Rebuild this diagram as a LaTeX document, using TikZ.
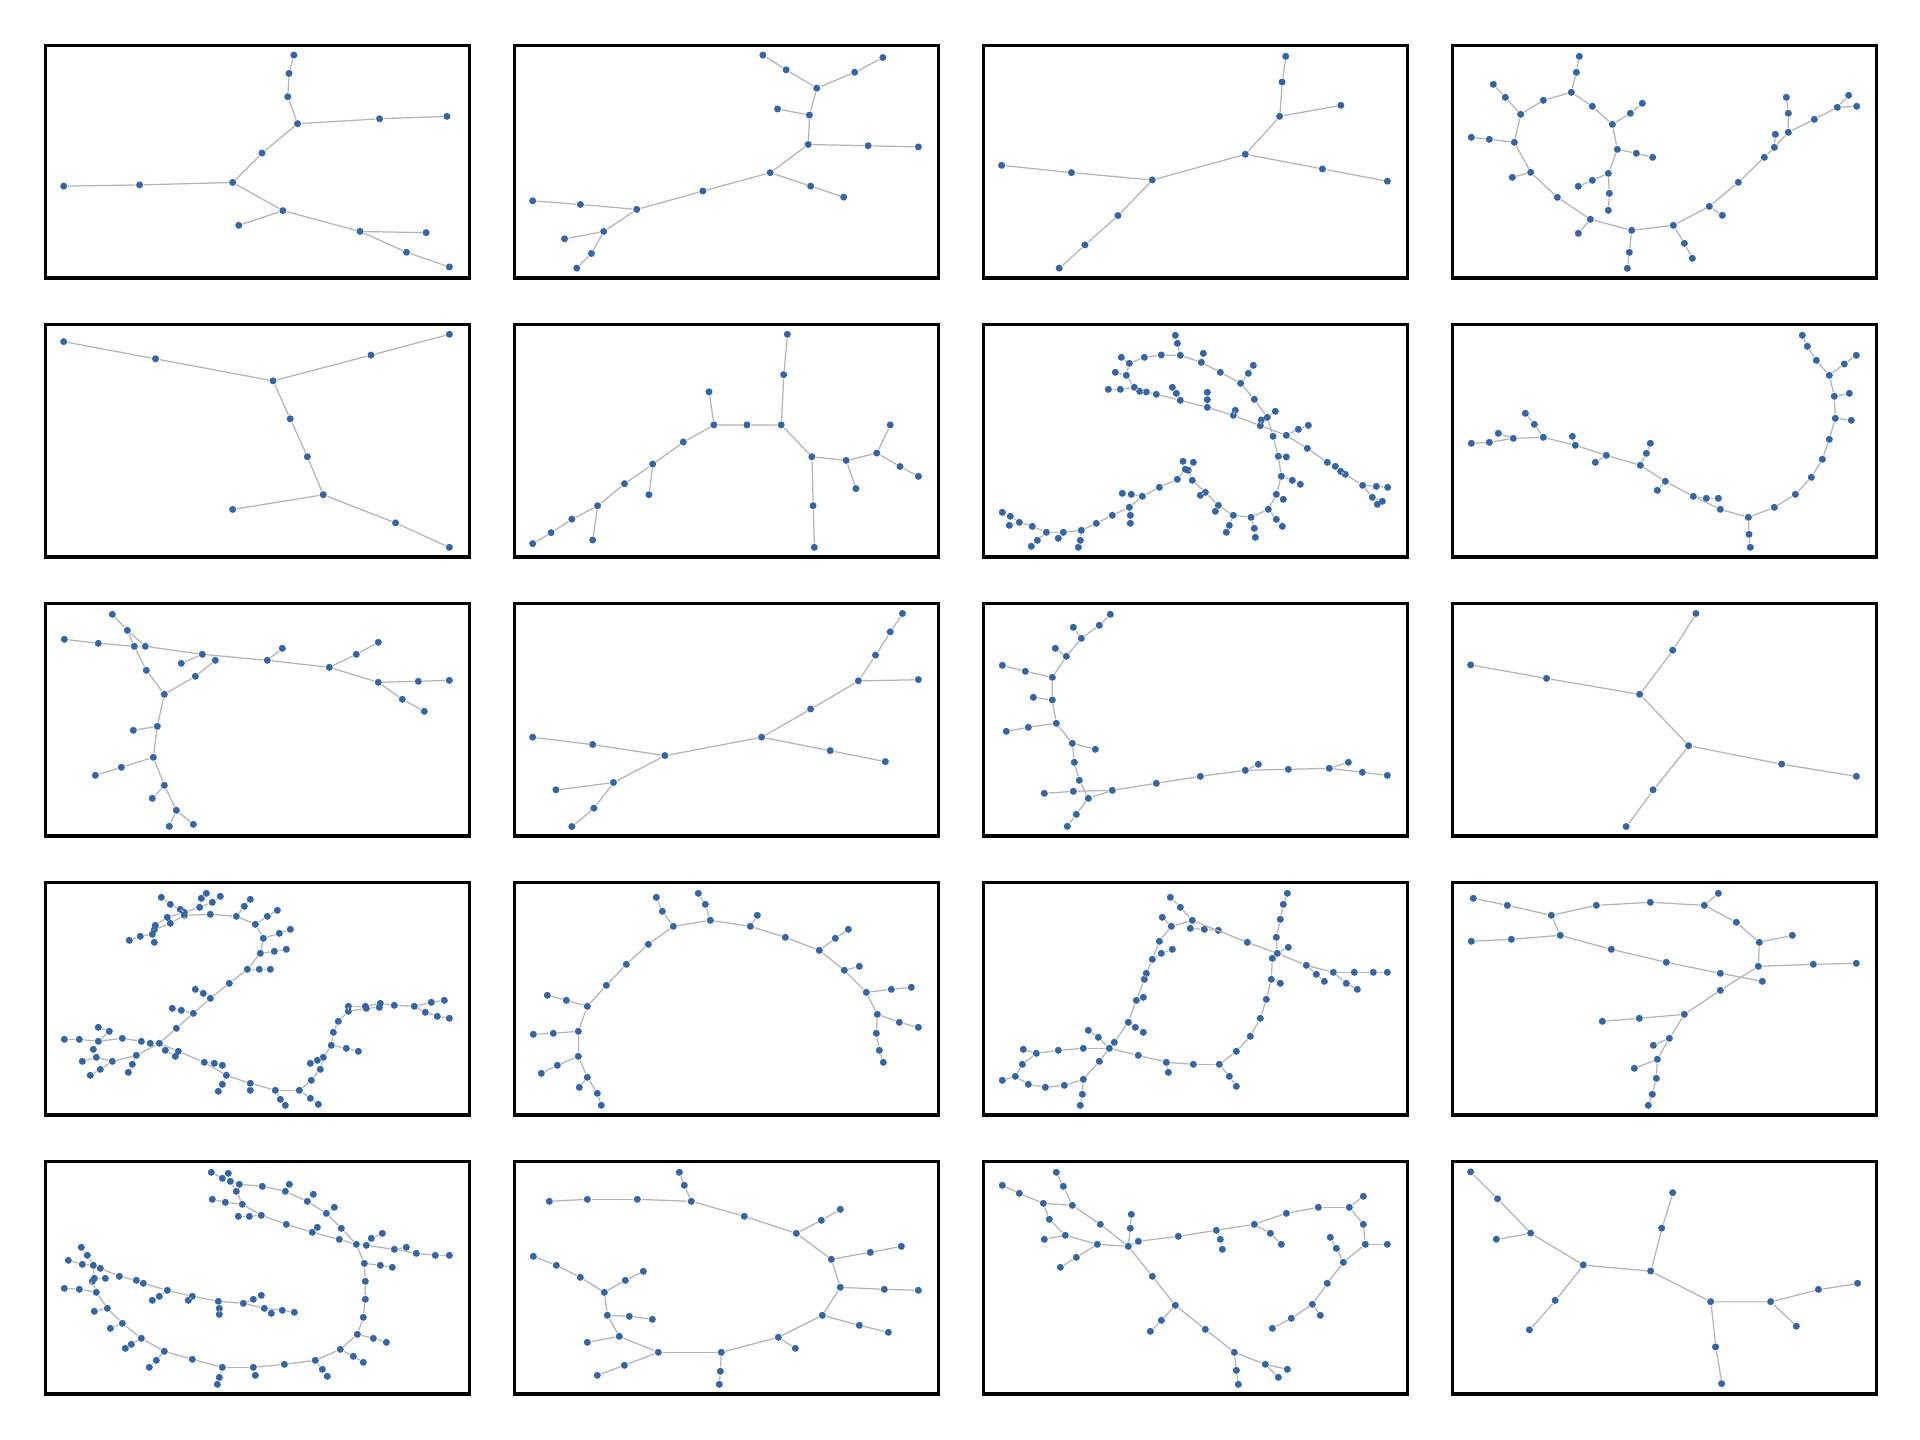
\documentclass[tikz,border=0pt]{standalone}
\usepackage{tikz}
\definecolor{dotblue}{HTML}{3465A4}
\definecolor{edgegray}{HTML}{B4B4B4}
\tikzset{
  pt/.style={circle,fill=dotblue,draw=none,inner sep=0pt,minimum size=0.07cm},
  edge/.style={draw=edgegray,line width=0.35pt},
  frame/.style={draw=black,line width=1pt}
}
\newcommand\PanelPts[2]{\foreach \n/\x/\y in {#2} {\node[pt] (#1-\n) at (\x,\y) {};}}
\newcommand\PanelEdges[2]{\foreach \a/\b in {#2} {\draw[edge] (#1-\a) -- (#1-\b);}}
\begin{document}
\begin{tikzpicture}[x=0.01cm,y=-0.01cm]
\useasboundingbox[fill=white] (0,0) rectangle (1920,1440);
% frames
\foreach \c in {0,1,2,3} {\foreach \r in {0,1,2,3,4} {
  \draw[frame] (45.7+469*\c,45.7+279*\r) rectangle (469.3+469*\c,278.2+279*\r);
}}
% ---------- simple panels, displayed coordinates ----------
\begin{scope}[scale=1.2245]
\PanelPts{A}{1/240/45, 2/236/60, 3/235/79, 4/243/101, 5/310/97, 6/365/95, 7/214/125, 8/190/149, 9/114/151, 10/52/152, 11/231/172, 12/195/184, 13/294/189, 14/348/190, 15/332/206, 16/367/218}
\PanelEdges{A}{1/2,2/3,3/4,4/5,5/6,4/7,7/8,8/9,9/10,8/11,11/12,11/13,13/14,13/15,15/16}
\PanelPts{B}{1/623/45, 2/642/57, 3/667/72, 4/698/59, 5/721/47, 6/635/89, 7/661/94, 8/660/118, 9/709/119, 10/750/120, 11/629/141, 12/662/152, 13/689/161, 14/574/156, 15/520/171, 16/474/167, 17/435/164, 18/493/189, 19/461/195, 20/483/207, 21/471/219}
\PanelEdges{B}{1/2,2/3,3/4,4/5,3/7,6/7,7/8,8/9,9/10,8/11,11/12,12/13,11/14,14/15,15/16,16/17,15/18,18/19,18/20,20/21}
\PanelPts{C}{1/1050/46, 2/1047/67, 3/1045/95, 4/1095/86, 5/1017/126, 6/1080/138, 7/1133/148, 8/941/147, 9/875/141, 10/818/135, 11/913/176, 12/886/200, 13/865/219}
\PanelEdges{C}{1/2,2/3,3/4,3/5,5/6,6/7,5/8,8/9,9/10,8/11,11/12,12/13}
\PanelPts{E}{1/52/279, 2/127/293, 3/223/311, 4/303/290, 5/367/273, 6/237/342, 7/251/373, 8/264/404, 9/190/416, 10/323/427, 11/367/447}
\PanelEdges{E}{1/2,2/3,3/4,4/5,3/6,6/7,7/8,8/9,8/10,10/11}
\PanelPts{F}{1/643/273, 2/640/306, 3/638/347, 4/610/347, 5/583/347, 6/579/320, 7/558/361, 8/533/379, 9/530/404, 10/510/395, 11/488/413, 12/484/441, 13/467/424, 14/450/435, 15/435/444, 16/663/373, 17/664/413, 18/665/447, 19/691/376, 20/699/399, 21/716/370, 22/727/347, 23/735/381, 24/750/389}
\PanelEdges{F}{1/2,2/3,3/4,4/5,5/6,5/7,7/8,8/9,8/10,10/11,11/12,11/13,13/14,14/15,3/16,16/17,17/18,16/19,19/20,19/21,21/22,21/23,23/24}
\PanelPts{J}{1/737/501, 2/727/516, 3/715/535, 4/701/556, 5/750/555, 6/662/579, 7/622/602, 8/678/613, 9/723/622, 10/543/617, 11/484/608, 12/435/602, 13/501/639, 14/454/645, 15/485/660, 16/467/675}
\PanelEdges{J}{1/2,2/3,3/4,4/5,4/6,6/7,7/8,8/9,7/10,10/11,11/12,10/13,13/14,13/15,15/16}
\PanelPts{L}{1/1385/501, 2/1366/531, 3/1339/567, 4/1263/554, 5/1201/543, 6/1379/609, 7/1455/624, 8/1516/634, 9/1350/645, 10/1328/675}
\PanelEdges{L}{1/2,2/3,3/4,4/5,3/6,6/7,7/8,6/9,9/10}
\PanelPts{T}{1/1201/957, 2/1223/979, 3/1250/1007, 4/1222/1012, 5/1293/1033, 6/1270/1062, 7/1249/1086, 8/1348/1038, 9/1357/1003, 10/1366/974, 11/1397/1063, 12/1401/1100, 13/1406/1130, 14/1446/1063, 15/1467/1083, 16/1485/1053, 17/1517/1048}
\PanelEdges{T}{1/2,2/3,3/4,3/5,5/6,6/7,5/8,8/9,9/10,8/11,11/12,12/13,11/14,14/15,14/16,16/17}
\end{scope}
% ---------- D: row 1 col 4 ----------
\begin{scope}[shift={(1446,40)},scale=0.33333]
\PanelPts{D}{1/400/49, 2/391/97, 3/376/157, 4/292/181, 5/224/223, 6/178/172, 7/142/133, 8/205/307, 9/130/298, 10/76/292, 11/254/397, 12/199/412, 13/334/472, 14/433/538, 15/397/580, 16/557/571, 17/550/637, 18/544/685, 19/682/556, 20/715/610, 21/739/655, 22/790/499, 23/829/526, 24/877/427, 25/955/352, 26/985/322, 27/988/283, 28/1027/277, 29/1027/220, 30/1021/172, 31/1105/238, 32/1174/202, 33/1208/166, 34/1232/199, 35/439/199, 36/499/253, 37/553/220, 38/589/190, 39/514/328, 40/571/340, 41/620/352, 42/487/400, 43/439/421, 44/397/439, 45/490/460, 46/487/511}
\PanelEdges{D}{1/2,2/3,3/4,4/5,5/6,6/7,5/8,8/9,9/10,8/11,11/12,11/13,13/14,14/15,14/16,16/17,17/18,16/19,19/20,20/21,19/22,22/23,22/24,24/25,25/26,26/27,26/28,28/29,29/30,28/31,31/32,32/33,32/34,3/35,35/36,36/37,37/38,36/39,39/40,40/41,39/42,42/43,43/44,42/45,45/46}
\end{scope}
% ---------- G: row 2 col 3 ----------
\begin{scope}[shift={(978,319)},scale=0.33333]
\PanelPts{G}{1/592/49, 2/598/73, 3/607/109, 4/550/108, 5/499/115, 6/454/133, 7/430/115, 8/445/169, 9/412/160, 10/469/205, 11/427/211, 12/391/211, 13/485/217, 14/505/219, 15/535/226, 16/607/244, 17/595/223, 18/583/205, 19/688/265, 20/688/242, 21/688/220, 22/766/289, 23/772/274, 24/847/320, 25/850/303, 26/925/349, 27/961/331, 28/991/319, 29/988/388, 30/1048/430, 31/1072/442, 32/1088/457, 33/1102/466, 34/1154/499, 35/1195/502, 36/1229/505, 37/1183/535, 38/1213/547, 39/1198/556, 40/676/103, 41/670/130, 42/727/160, 43/788/193, 44/811/163, 45/826/139, 46/829/241, 47/868/295, 48/892/277, 49/885/352, 50/901/412, 51/925/414, 52/910/472, 53/943/484, 54/967/496, 55/895/526, 56/916/541, 57/871/571, 58/895/601, 59/913/622, 60/819/595, 61/829/628, 62/832/655, 63/766/589, 64/754/619, 65/745/640, 66/721/559, 67/712/577, 68/682/520, 69/667/529, 70/643/484, 71/631/454, 72/646/430, 73/622/451, 74/615/427, 75/598/481, 76/544/505, 77/493/532, 78/460/526, 79/433/523, 80/454/565, 81/457/589, 82/457/613, 83/403/589, 84/355/613, 85/310/634, 86/307/664, 87/301/685, 88/256/640, 89/241/658, 90/205/640, 91/178/664, 92/160/682, 93/163/622, 94/124/610, 95/97/592, 96/73/580, 97/94/619}
\PanelEdges{G}{1/2,2/3,3/4,4/5,5/6,6/7,6/8,8/9,8/10,10/11,11/12,10/13,13/14,14/15,15/16,16/17,17/18,16/19,19/20,20/21,19/22,22/23,22/24,24/25,24/26,26/27,27/28,26/29,29/30,30/31,31/32,32/33,33/34,34/35,35/36,34/37,37/38,37/39,3/41,41/40,41/42,42/43,43/44,44/45,43/46,46/47,47/48,47/49,49/50,50/51,50/52,52/53,53/54,52/55,55/56,55/57,57/58,58/59,57/60,60/61,61/62,60/63,63/64,64/65,63/66,66/67,66/68,68/69,68/70,70/71,71/72,71/73,73/74,73/75,75/76,76/77,77/78,78/79,77/80,80/81,81/82,80/83,83/84,84/85,85/86,86/87,85/88,88/89,88/90,90/91,91/92,90/93,93/94,94/95,95/96,94/97}
\end{scope}
% ---------- H: row 2 col 4 ----------
\begin{scope}[shift={(1446,319)},scale=0.33333]
\PanelPts{H}{1/76/373, 2/130/370, 3/202/358, 4/157/343, 5/292/355, 6/265/316, 7/238/283, 8/388/379, 9/379/352, 10/481/409, 11/448/430, 12/583/439, 13/601/403, 14/613/373, 15/658/487, 16/634/514, 17/742/532, 18/781/538, 19/817/538, 20/823/571, 21/907/595, 22/909/646, 23/913/685, 24/985/565, 25/1048/526, 26/1096/475, 27/1129/421, 28/1150/361, 29/1168/298, 30/1216/304, 31/1165/232, 32/1210/223, 33/1150/169, 34/1195/135, 35/1231/109, 36/1111/124, 37/1084/82, 38/1069/49}
\PanelEdges{H}{1/2,2/3,3/4,3/5,5/6,6/7,5/8,8/9,8/10,10/11,10/12,12/13,13/14,12/15,15/16,15/17,17/18,18/19,17/20,20/21,21/22,22/23,21/24,24/25,25/26,26/27,27/28,28/29,29/30,29/31,31/32,31/33,33/34,34/35,33/36,36/37,37/38}
\end{scope}
% ---------- I: row 3 col 1 ----------
\begin{scope}[shift={(40,599)},scale=0.33333]
\PanelPts{I}{1/73/121, 2/175/133, 3/283/142, 4/316/142, 5/262/94, 6/217/46, 7/487/166, 8/424/193, 9/682/184, 10/727/148, 11/868/205, 12/949/166, 13/1015/130, 14/1015/250, 15/1135/247, 16/1228/244, 17/1087/301, 18/1153/337, 19/319/214, 20/373/286, 21/466/232, 22/526/184, 23/352/382, 24/280/394, 25/340/475, 26/244/505, 27/166/529, 28/373/559, 29/337/598, 30/409/634, 31/388/682, 32/460/676}
\PanelEdges{I}{1/2,2/3,3/4,4/7,7/8,7/9,9/10,9/11,11/12,12/13,11/14,14/15,15/16,14/17,17/18,4/5,5/6,5/3,3/19,19/20,20/21,21/22,20/23,23/24,23/25,25/26,26/27,25/28,28/29,28/30,30/31,30/32}
\end{scope}
% ---------- K: row 3 col 3 ----------
\begin{scope}[shift={(978,599)},scale=0.33333]
\PanelPts{K}{1/397/46, 2/364/79, 3/310/118, 4/286/85, 5/265/172, 6/232/148, 7/223/235, 8/142/217, 9/73/199, 10/223/303, 11/166/295, 12/235/373, 13/151/385, 14/85/397, 15/283/433, 16/352/451, 17/289/490, 18/304/544, 19/331/598, 20/295/646, 21/268/682, 22/403/574, 23/286/577, 24/199/583, 25/535/553, 26/667/532, 27/802/514, 28/841/496, 29/931/511, 30/1054/508, 31/1111/490, 32/1153/520, 33/1228/529}
\PanelEdges{K}{1/2,2/3,3/4,3/5,5/6,5/7,7/8,8/9,7/10,10/11,10/12,12/13,13/14,12/15,15/16,15/17,17/18,18/19,19/20,20/21,19/22,22/23,23/24,22/25,25/26,26/27,27/28,27/29,29/30,30/31,30/32,32/33}
\end{scope}
% ---------- M: row 4 col 1 ----------
\begin{scope}[shift={(40,878)},scale=0.33333]
\PanelPts{M}{1/364/58, 2/391/79, 3/421/94, 4/433/103, 5/433/112, 6/499/46, 7/484/61, 8/479/88, 9/541/55, 10/517/73, 11/382/118, 12/391/136, 13/346/142, 14/343/155, 15/337/169, 16/343/193, 17/301/175, 18/268/187, 19/511/109, 20/589/115, 21/613/85, 22/631/64, 23/646/139, 24/682/115, 25/712/97, 26/670/181, 27/718/166, 28/751/154, 29/661/226, 30/703/220, 31/739/214, 32/622/274, 33/658/274, 34/691/274, 35/568/316, 36/511/361, 37/490/346, 38/466/334, 39/460/406, 40/424/397, 41/397/391, 42/409/451, 43/358/496, 44/331/496, 45/304/490, 46/247/481, 47/175/490, 48/118/484, 49/73/484, 50/208/460, 51/175/448, 52/160/514, 53/169/538, 54/127/550, 55/217/550, 56/181/574, 57/151/592, 58/289/532, 59/277/559, 60/265/583, 61/376/517, 62/406/535, 63/415/520, 64/493/553, 65/523/556, 66/547/562, 67/559/592, 68/547/619, 69/535/640, 70/631/616, 71/631/637, 72/706/637, 73/721/664, 74/736/682, 75/778/637, 76/811/661, 77/835/679, 78/814/607, 79/841/574, 80/811/556, 81/832/547, 82/850/538, 83/874/502, 84/919/511, 85/955/520, 86/880/463, 87/895/430, 88/925/400, 89/925/385, 90/979/391, 91/976/385, 92/1018/388, 93/1021/376, 94/1063/382, 95/1123/385, 96/1174/373, 97/1213/367, 98/1156/403, 99/1192/415, 100/1228/421}
\PanelEdges{M}{43/42,42/39,39/36,36/35,35/32,32/29,29/26,26/23,23/20,20/19,19/5,5/4,4/3,3/2,2/1,4/8,8/7,7/6,8/10,10/9,4/11,11/13,13/15,15/16,15/17,17/18,5/12,12/14,20/21,21/22,23/24,24/25,26/27,27/28,29/30,30/31,32/33,33/34,36/37,37/38,39/40,40/41,43/44,44/45,45/46,46/47,47/48,48/49,47/50,50/51,43/58,58/55,55/53,53/54,53/52,55/56,56/57,58/59,59/60,43/61,61/62,43/63,63/64,64/65,65/66,64/67,67/68,68/69,67/70,70/71,70/72,72/73,73/74,72/75,75/76,76/77,75/78,78/79,79/82,82/81,81/80,82/83,83/84,84/85,83/86,86/87,87/88,88/89,89/91,91/93,93/94,94/95,88/90,90/92,95/96,96/97,95/98,98/99,99/100}
\end{scope}
% ---------- N: row 4 col 2 ----------
\begin{scope}[shift={(509,878)},scale=0.33333]
\PanelPts{N}{1/442/58, 2/460/100, 3/493/145, 4/568/46, 5/589/79, 6/604/127, 7/724/145, 8/745/112, 9/829/178, 10/931/217, 11/979/181, 12/1018/154, 13/1006/277, 14/1051/265, 15/1072/343, 16/1147/334, 17/1207/328, 18/1105/409, 19/1171/433, 20/1228/448, 21/1102/466, 22/1111/517, 23/1123/553, 24/418/199, 25/352/259, 26/292/322, 27/235/385, 28/172/367, 29/115/352, 30/208/460, 31/133/466, 32/73/469, 33/208/535, 34/145/562, 35/97/586, 36/235/598, 37/211/628, 38/265/646, 39/277/682}
\PanelEdges{N}{1/2,2/3,4/5,5/6,3/6,6/7,7/8,7/9,9/10,10/11,11/12,10/13,13/14,13/15,15/16,16/17,15/18,18/19,19/20,18/21,21/22,22/23,3/24,24/25,25/26,26/27,27/28,28/29,27/30,30/31,31/32,30/33,33/34,34/35,33/36,36/37,36/38,38/39}
\end{scope}
% ---------- O: row 4 col 3 ----------
\begin{scope}[shift={(978,878)},scale=0.33333]
\PanelPts{O}{1/577/58, 2/607/88, 3/643/127, 4/553/118, 5/580/145, 6/637/151, 7/679/154, 8/721/157, 9/808/193, 10/898/226, 11/931/208, 12/883/241, 13/895/178, 14/907/124, 15/916/79, 16/928/46, 17/985/262, 18/1015/289, 19/1039/310, 20/1066/283, 21/1129/283, 22/1186/283, 23/1228/283, 24/1105/316, 25/1138/334, 26/880/304, 27/907/316, 28/865/364, 29/847/421, 30/817/475, 31/775/520, 32/724/559, 33/754/595, 34/775/625, 35/646/559, 36/565/553, 37/571/583, 38/481/532, 39/394/511, 40/361/478, 41/331/457, 42/409/493, 43/451/433, 44/472/448, 45/496/463, 46/475/367, 47/496/358, 48/499/304, 49/505/286, 50/523/244, 51/550/226, 52/583/214, 53/544/190, 54/316/511, 55/241/517, 56/175/526, 57/136/514, 58/133/559, 59/112/595, 60/73/607, 61/151/619, 62/202/628, 63/259/622, 64/316/604, 65/313/649, 66/307/682, 67/364/550}
\PanelEdges{O}{1/2,2/3,3/5,5/4,3/6,6/7,7/8,3/9,9/10,10/13,13/14,14/15,15/16,10/11,10/12,12/26,10/17,17/18,18/19,17/20,20/21,21/22,22/23,20/24,24/25,26/27,26/28,28/29,29/30,30/31,31/32,32/33,33/34,32/35,35/36,36/37,36/38,38/39,39/40,40/41,39/42,42/43,43/44,44/45,43/46,46/47,46/48,48/49,49/50,50/51,51/52,50/53,53/5,39/54,54/55,55/56,56/57,56/58,58/59,59/60,59/61,61/62,62/63,63/64,64/65,65/66,64/67,67/39}
\end{scope}
% ---------- P: row 4 col 4 ----------
\begin{scope}[shift={(1446,878)},scale=0.33333]
\PanelPts{P}{1/82/61, 2/184/82, 3/316/112, 4/451/82, 5/613/73, 6/775/82, 7/817/46, 8/871/133, 9/940/193, 10/1039/172, 11/937/265, 12/1102/259, 13/1231/256, 14/343/172, 15/196/184, 16/76/190, 17/496/214, 18/661/253, 19/823/286, 20/949/310, 21/823/337, 22/715/409, 23/580/421, 24/469/430, 25/670/481, 26/622/502, 27/634/544, 28/565/571, 29/631/601, 30/619/649, 31/607/682}
\PanelEdges{P}{1/2,2/3,3/4,4/5,5/6,6/7,6/8,8/9,9/10,9/11,11/12,12/13,3/14,14/15,15/16,14/17,17/18,18/19,19/20,11/21,21/22,22/23,23/24,22/25,25/26,25/27,27/28,27/29,29/30,30/31}
\end{scope}
% ---------- Q: row 5 col 1 ----------
\begin{scope}[shift={(40,1157)},scale=0.33333]
\PanelPts{Q}{1/514/46, 2/547/64, 3/571/73, 4/565/49, 5/598/82, 6/667/88, 7/736/103, 8/748/82, 9/802/133, 10/820/112, 11/859/169, 12/883/151, 13/904/214, 14/949/262, 15/589/103, 16/607/142, 17/556/136, 18/517/127, 19/664/175, 20/628/178, 21/595/178, 22/739/202, 23/817/226, 24/832/211, 25/898/247, 26/979/265, 27/994/244, 28/1027/229, 29/1063/277, 30/1099/271, 31/1129/289, 32/1186/295, 33/1228/295, 34/973/319, 35/1021/325, 36/1057/331, 37/976/373, 38/976/427, 39/970/481, 40/952/532, 41/1000/544, 42/1039/556, 43/901/577, 44/940/598, 45/970/616, 46/826/610, 47/847/637, 48/862/658, 49/733/622, 50/640/631, 51/646/655, 52/547/631, 53/538/661, 54/532/682, 55/457/607, 56/373/583, 57/349/610, 58/328/631, 59/304/544, 60/274/562, 61/256/574, 62/247/499, 63/211/514, 64/202/454, 65/163/463, 66/169/406, 67/118/397, 68/73/394, 69/157/373, 70/163/364, 71/196/364, 72/238/358, 73/181/334, 74/160/325, 75/127/322, 76/85/310, 77/142/295, 78/124/271, 79/289/370, 80/310/379, 81/382/400, 82/358/418, 83/337/430, 84/457/418, 85/445/430, 86/535/433, 87/538/454, 88/538/472, 89/610/439, 90/640/427, 91/664/415, 92/673/454, 93/694/469, 94/727/460, 95/763/466}
\PanelEdges{Q}{1/2,2/3,3/4,3/5,5/6,6/7,7/8,7/9,9/10,9/11,11/12,11/13,13/14,3/15,15/16,16/17,17/18,16/19,19/20,20/21,19/22,22/23,23/24,23/25,25/14,14/26,26/27,27/28,26/29,29/30,29/31,31/32,32/33,14/34,34/35,35/36,34/37,37/38,38/39,39/40,40/41,41/42,40/43,43/44,44/45,43/46,46/47,47/48,46/49,49/50,50/51,50/52,52/53,53/54,52/55,55/56,56/57,57/58,56/59,59/60,60/61,59/62,62/63,62/64,64/65,64/66,66/67,67/68,66/69,69/70,70/74,74/75,75/76,74/77,77/78,74/73,73/72,72/79,79/80,80/81,70/71,81/82,82/83,81/84,84/85,84/86,86/87,87/88,86/89,89/90,90/91,89/92,92/93,92/94,94/95}
\end{scope}
% ---------- R: row 5 col 2 ----------
\begin{scope}[shift={(509,1157)},scale=0.33333]
\PanelPts{R}{1/511/46, 2/526/85, 3/547/133, 4/385/127, 5/235/127, 6/121/133, 7/706/178, 8/862/229, 9/937/190, 10/994/157, 11/967/307, 12/1084/286, 13/1177/268, 14/994/391, 15/1126/397, 16/1228/400, 17/940/475, 18/1051/505, 19/1138/526, 20/808/541, 21/859/574, 22/637/586, 23/634/643, 24/631/682, 25/448/586, 26/346/625, 27/265/655, 28/331/538, 29/235/556, 30/295/475, 31/361/478, 32/430/487, 33/286/406, 34/349/370, 35/403/343, 36/214/361, 37/142/325, 38/73/298}
\PanelEdges{R}{1/2,2/3,3/4,4/5,5/6,3/7,7/8,8/9,9/10,8/11,11/12,12/13,11/14,14/15,15/16,14/17,17/18,18/19,17/20,20/21,20/22,22/23,23/24,22/25,25/26,26/27,25/28,28/29,28/30,30/31,31/32,30/33,33/34,34/35,33/36,36/37,37/38}
\end{scope}
% ---------- S: row 5 col 3 ----------
\begin{scope}[shift={(978,1157)},scale=0.33333]
\PanelPts{S}{1/235/46, 2/256/88, 3/283/145, 4/73/85, 5/124/109, 6/196/139, 7/214/187, 8/262/235, 9/199/247, 10/358/262, 11/295/301, 12/247/331, 13/367/202, 14/451/268, 15/457/214, 16/460/172, 17/481/253, 18/601/238, 19/715/220, 20/727/247, 21/733/277, 22/829/202, 23/877/229, 24/910/262, 25/925/169, 26/1021/151, 27/1114/151, 28/1156/118, 29/1156/202, 30/1162/262, 31/1228/262, 32/1096/316, 33/1075/274, 34/1057/241, 35/1048/379, 36/1003/442, 37/1027/475, 38/940/484, 39/883/514, 40/523/358, 41/592/445, 42/550/490, 43/517/523, 44/682/517, 45/769/586, 46/775/640, 47/781/682, 48/862/622, 49/928/637, 50/901/661}
\PanelEdges{S}{1/2,2/3,4/5,5/6,6/3,6/7,7/8,8/9,8/10,10/11,11/12,3/13,13/14,10/14,14/15,15/16,14/17,17/18,18/19,19/20,20/21,19/22,22/23,23/24,22/25,25/26,26/27,27/28,27/29,29/30,30/31,30/32,32/33,33/34,32/35,35/36,36/37,36/38,38/39,14/40,40/41,41/42,42/43,41/44,44/45,45/46,46/47,45/48,48/49,48/50}
\end{scope}
\end{tikzpicture}
\end{document}
